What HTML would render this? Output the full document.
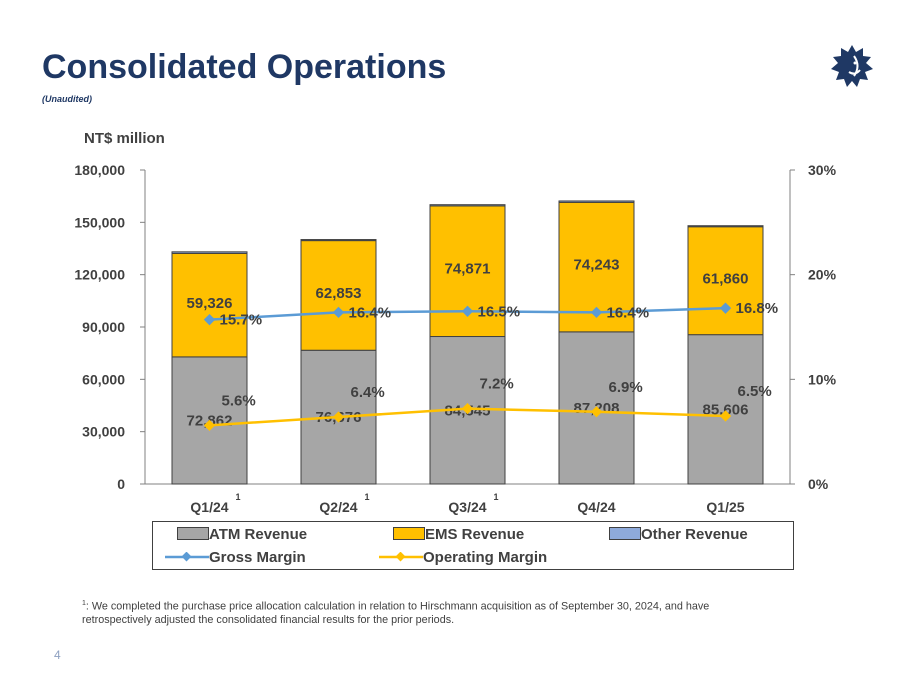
<!DOCTYPE html>
<html><head><meta charset="utf-8"><style>
body{margin:0;width:903px;height:697px;background:#fff;font-family:"Liberation Sans",sans-serif;overflow:hidden;position:relative}
.t{position:absolute}
</style></head><body>
<div class="t" style="left:42px;top:48px;font-size:34px;font-weight:bold;color:#1f3864">Consolidated Operations</div>
<div class="t" style="left:42px;top:94px;font-size:9px;font-weight:bold;font-style:italic;color:#1f3864">(Unaudited)</div>
<svg class="t" style="left:828px;top:42px" width="48" height="48" viewBox="-24 -24 48 48">
<polygon fill="#1f3864" points="0,-21 4,-14 11,-18 11,-10 19,-9 14,-3 21,3 13,6 16,14 8,13 5,21 0,15 -5,21 -8,13 -16,14 -13,6 -21,3 -14,-3 -19,-9 -11,-10 -11,-18 -4,-14"/>
<path d="M2,-10 Q9,0 2,10 M-3,6 Q3,10 8,4" stroke="#fff" stroke-width="2" fill="none"/><circle cx="3" cy="-3" r="1.5" fill="#fff"/></svg>
<div class="t" style="left:84px;top:130px;font-size:15px;font-weight:bold;color:#404040">NT$ million</div>
<svg id="chart" class="t" style="left:0;top:0" width="903" height="697"></svg>
<div class="t" style="left:152px;top:521px;width:640px;height:47px;border:1px solid #404040;font-size:15px;font-weight:bold;color:#404040">
<div class="t" style="left:24px;top:4px"><span style="display:inline-block;width:30px;height:11px;background:#a6a6a6;border:1px solid #404040;vertical-align:-1px"></span>ATM Revenue</div>
<div class="t" style="left:240px;top:4px"><span style="display:inline-block;width:30px;height:11px;background:#ffc000;border:1px solid #404040;vertical-align:-1px"></span>EMS Revenue</div>
<div class="t" style="left:456px;top:4px"><span style="display:inline-block;width:30px;height:11px;background:#8eaadb;border:1px solid #404040;vertical-align:-1px"></span>Other Revenue</div>
<div class="t" style="left:12px;top:27px;white-space:nowrap"><svg width="44" height="10" style="vertical-align:0"><line x1="0" y1="5" x2="44" y2="5" stroke="#5b9bd5" stroke-width="2.5"/><rect x="18" y="1" width="7" height="7" fill="#5b9bd5" transform="rotate(45 21.5 4.5)"/></svg>Gross Margin</div>
<div class="t" style="left:226px;top:27px;white-space:nowrap"><svg width="44" height="10" style="vertical-align:0"><line x1="0" y1="5" x2="44" y2="5" stroke="#ffc000" stroke-width="2.5"/><rect x="18" y="1" width="7" height="7" fill="#ffc000" transform="rotate(45 21.5 4.5)"/></svg>Operating Margin</div>
</div>
<div class="t" style="left:82px;top:597px;width:720px;font-size:10.8px;color:#404040;line-height:13px"><sup style="font-size:7px">1</sup>: We completed the purchase price allocation calculation in relation to Hirschmann acquisition as of September 30, 2024, and have<br>retrospectively adjusted the consolidated financial results for the prior periods.</div>
<div class="t" style="left:54px;top:648px;font-size:12px;color:#8ea0c0">4</div>
<script>
const categories=["Q1/24","Q2/24","Q3/24","Q4/24","Q1/25"];
const footnoteMarks=[true,true,true,false,false];
const atm=[72862,76676,84545,87208,85606];
const ems=[59326,62853,74871,74243,61860];
const other=[900,600,700,800,600];
const gross=[15.7,16.4,16.5,16.4,16.8];
const operating=[5.6,6.4,7.2,6.9,6.5];
const leftTicks=[0,30000,60000,90000,120000,150000,180000];
const rightTicks=[0,10,20,30];
const svg=document.getElementById('chart');const NS="http://www.w3.org/2000/svg";
const X0=145,X1=790,Y0=484,Y1=170;
const y=v=>Y0-v/180000*(Y0-Y1);
const yp=v=>Y0-v/30*(Y0-Y1);
const step=(X1-X0)/categories.length;
const xc=i=>X0+step*(i+0.5);
function mk(t,a,txt){const e=document.createElementNS(NS,t);for(const k in a)e.setAttribute(k,a[k]);if(txt!==undefined)e.textContent=txt;svg.appendChild(e);return e;}
const fmt=v=>v.toLocaleString('en-US');
let ax=mk('line',{x1:X0,y1:Y0,x2:X0,y2:Y1,stroke:'#808080'});

ax=mk('line',{x1:X1,y1:Y0,x2:X1,y2:Y1,stroke:'#808080'});

ax=mk('line',{x1:X0,y1:Y0,x2:X1,y2:Y0,stroke:'#808080'});

leftTicks.forEach(v=>{mk('line',{x1:X0-5,y1:y(v),x2:X0,y2:y(v),stroke:'#808080'});
const t=mk('text',{x:X0-20,y:y(v)+5,'text-anchor':'end','font-size':14,'font-weight':'bold',fill:'#404040'},fmt(v));
});
rightTicks.forEach(v=>{mk('line',{x1:X1,y1:yp(v),x2:X1+5,y2:yp(v),stroke:'#808080'});
const t=mk('text',{x:X1+18,y:yp(v)+5,'font-size':14,'font-weight':'bold',fill:'#404040'},v+'%');
});
const bw=75;
categories.forEach((c,i)=>{const x=xc(i)-bw/2;
let r=mk('rect',{x:x,y:y(atm[i]),width:bw,height:Y0-y(atm[i]),fill:'#a6a6a6',stroke:'#404040'});

r=mk('rect',{x:x,y:y(atm[i]+ems[i]),width:bw,height:y(atm[i])-y(atm[i]+ems[i]),fill:'#ffc000',stroke:'#404040'});

r=mk('rect',{x:x,y:y(atm[i]+ems[i]+other[i]),width:bw,height:y(atm[i]+ems[i])-y(atm[i]+ems[i]+other[i]),fill:'#8eaadb',stroke:'#404040'});

let t=mk('text',{x:xc(i),y:Y0+28,'text-anchor':'middle','font-size':14,'font-weight':'bold',fill:'#404040'},c);

if(footnoteMarks[i]){t=mk('text',{x:xc(i)+26,y:Y0+16,'font-size':9,'font-weight':'bold',fill:'#404040'},'1');
}
t=mk('text',{x:xc(i),y:y(atm[i]/2)+5,'text-anchor':'middle','font-size':15,'font-weight':'bold',fill:'#404040'},fmt(atm[i]));

t=mk('text',{x:xc(i),y:y(atm[i]+ems[i]*0.52)+5,'text-anchor':'middle','font-size':15,'font-weight':'bold',fill:'#404040'},fmt(ems[i]));

});
function line(vals,color,name,lab,dx,dy){
const p=mk('polyline',{points:vals.map((v,i)=>xc(i)+','+yp(v)).join(' '),fill:'none',stroke:color,'stroke-width':2.5});

vals.forEach((v,i)=>{const d=mk('rect',{x:xc(i)-4,y:yp(v)-4,width:8,height:8,fill:color,transform:`rotate(45 ${xc(i)} ${yp(v)})`});

const t=mk('text',{x:xc(i)+dx,y:yp(v)+dy,'font-size':15,'font-weight':'bold',fill:'#404040'},v.toFixed(1)+'%');
});}
line(operating,'#ffc000','operating-margin-line','operating-margin-label',12,-20);
line(gross,'#5b9bd5','gross-margin-line','gross-margin-label',10,5);
</script>
</body></html>
